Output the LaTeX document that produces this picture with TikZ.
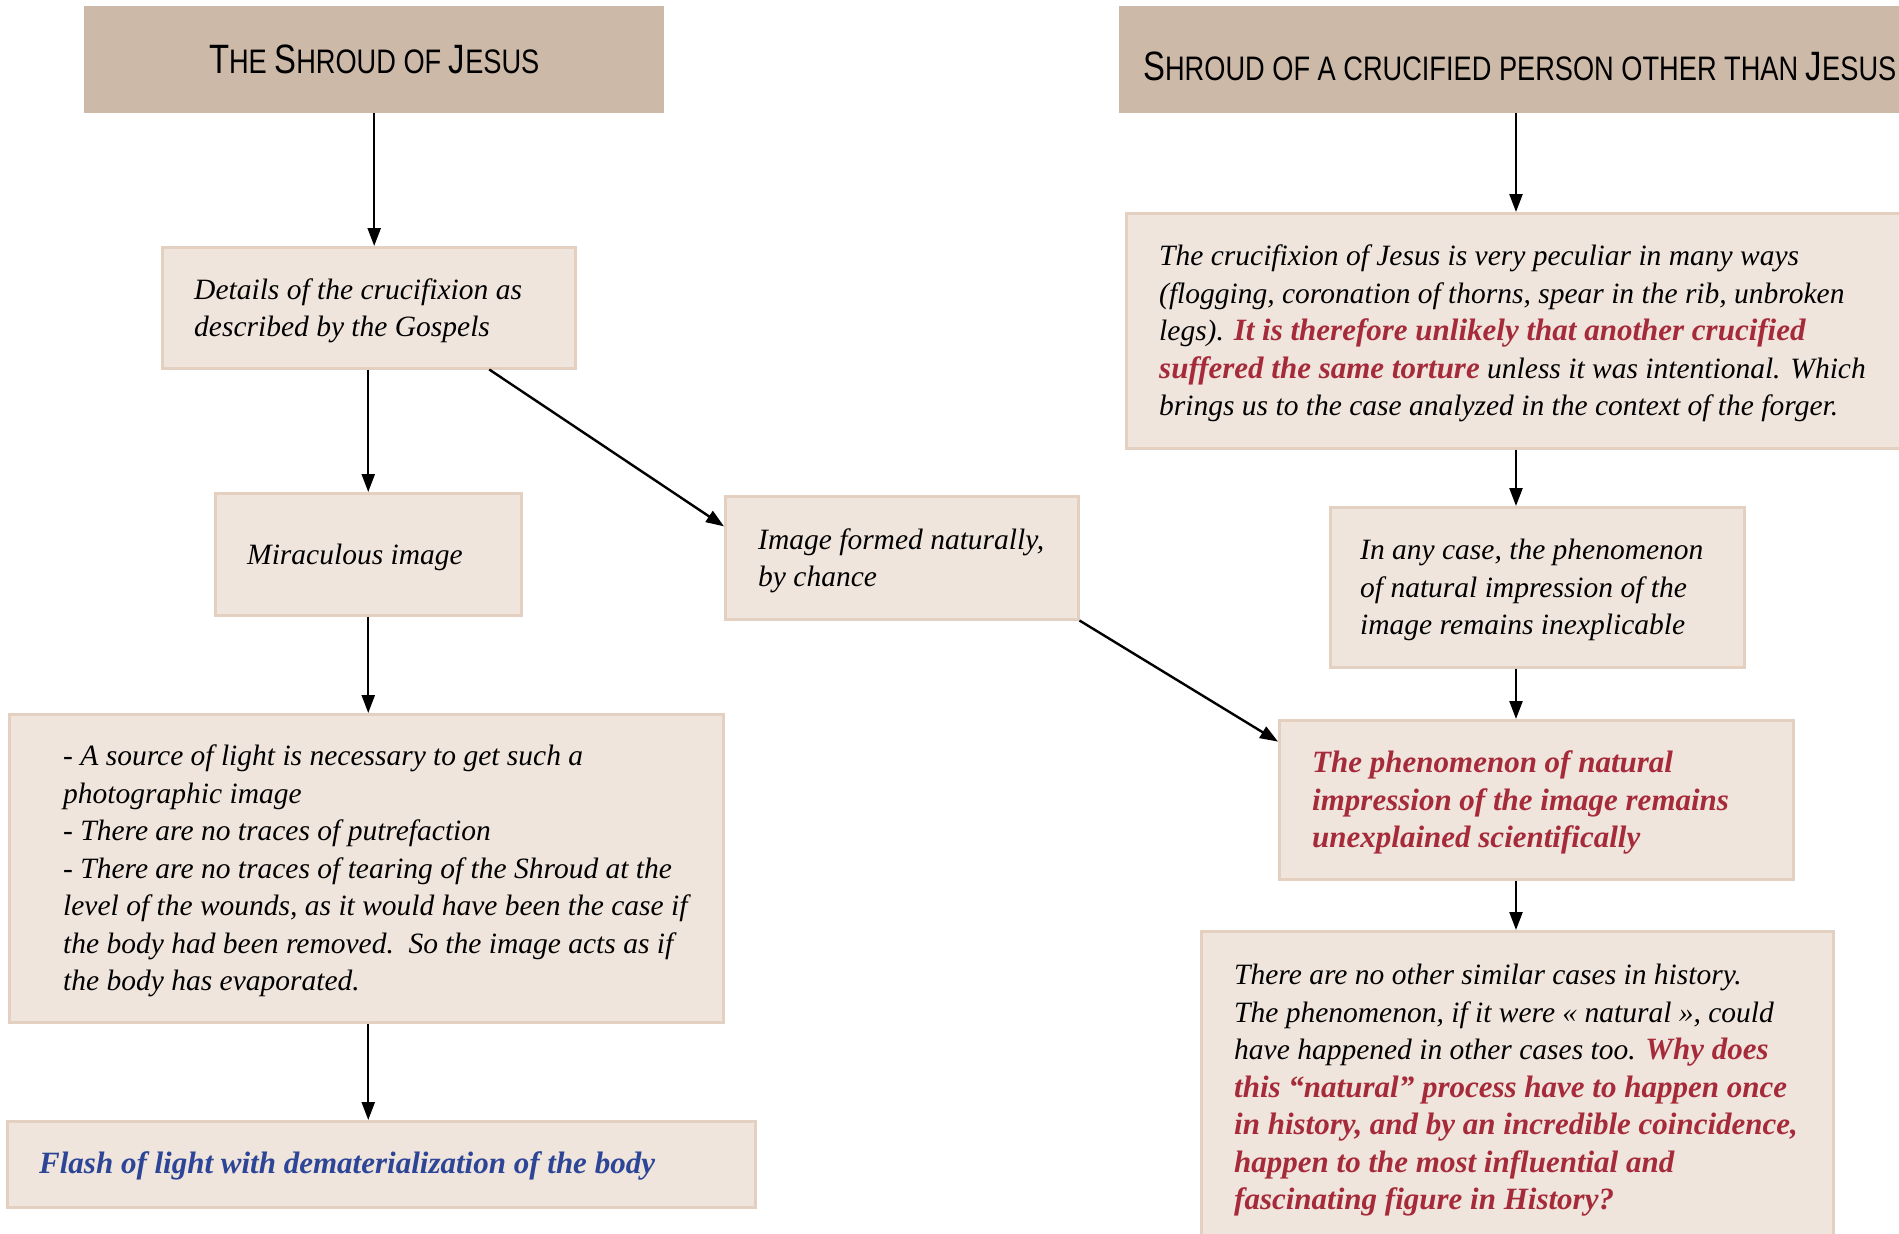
\documentclass[tikz,border=0pt]{standalone}
\usepackage{fontspec}
\setmainfont{Liberation Serif}
\newfontfamily\titlefont[FakeStretch=0.8]{Liberation Sans}
\usetikzlibrary{arrows.meta,calc}
\definecolor{titlefill}{HTML}{CDB9A8}
\definecolor{boxfill}{HTML}{F0E5DD}
\definecolor{boxline}{HTML}{E4D0C0}
\definecolor{redtxt}{HTML}{A62B3A}
\definecolor{bluetxt}{HTML}{2C4597}
\newcommand{\BigCap}[1]{{\fontsize{41}{43}\selectfont #1}}
\newcommand{\hl}[1]{\textcolor{redtxt}{\fontsize{31}{37.5}\selectfont\bfseries #1}}
\newcommand{\bodyfont}{\fontsize{29.5}{37.5}\selectfont\itshape}
\tikzset{
  titlebox/.style={fill=titlefill, draw=none, inner sep=0pt, anchor=north west},
  bodybox/.style={fill=boxfill, draw=boxline, line width=2.5pt, inner sep=0pt, anchor=north west},
  bodytext/.style={anchor=west, align=left, inner sep=0pt, font=\bodyfont},
  titletext/.style={inner sep=0pt, font=\titlefont\fontsize{34}{37}\selectfont},
  arr/.style={-{Triangle[length=18pt,width=13pt]}, line width=2.4pt},
}
\begin{document}
\begin{tikzpicture}[x=1pt,y=-1pt]
\useasboundingbox (0,0) rectangle (1899,1234);
% title boxes
\node[titlebox, minimum width=580pt, minimum height=107pt] (t1) at (84,6) {};
\node[titletext] (t1txt) at (t1.center) {\BigCap{T}HE \BigCap{S}HROUD OF \BigCap{J}ESUS};
\node[titlebox, minimum width=800pt, minimum height=107pt] (t2) at (1119,6) {};
\node[titletext, anchor=west] (t2txt) at ([xshift=24pt,yshift=-7pt]t2.west) {\BigCap{S}HROUD OF A CRUCIFIED PERSON OTHER THAN \BigCap{J}ESUS};
% left column boxes
\node[bodybox, minimum width=413pt, minimum height=121pt] (b1) at (161,246) {};
\node[bodytext] (b1txt) at ([xshift=33pt,yshift=-3pt]b1.west) {Details of the crucifixion as\\described by the Gospels};
\node[bodybox, minimum width=306pt, minimum height=122pt] (b2) at (214,492) {};
\node[bodytext] (b2txt) at ([xshift=33pt,yshift=-3pt]b2.west) {Miraculous image};
\node[bodybox, minimum width=353pt, minimum height=123pt] (b3) at (724,495) {};
\node[bodytext] (b3txt) at ([xshift=34pt,yshift=-3pt]b3.west) {Image formed naturally,\\by chance};
\node[bodybox, minimum width=714pt, minimum height=308pt] (b4) at (8,713) {};
\node[bodytext] (b4txt) at ([xshift=55pt,yshift=-3pt]b4.west) {- A source of light is necessary to get such a\\photographic image\\- There are no traces of putrefaction\\- There are no traces of tearing of the Shroud at the\\level of the wounds, as it would have been the case if\\the body had been removed.\ \ So the image acts as if\\the body has evaporated.};
\node[bodybox, minimum width=748pt, minimum height=86pt] (b5) at (6,1120) {};
\node[bodytext] (b5txt) at ([xshift=33pt,yshift=-2pt]b5.west) {\textcolor{bluetxt}{\fontsize{31}{37.5}\selectfont\bfseries Flash of light with dematerialization of the body}};
% right column boxes
\node[bodybox, minimum width=790pt, minimum height=235pt] (b6) at (1125,212) {};
\node[bodytext] (b6txt) at ([xshift=34pt,yshift=-3pt]b6.west) {The crucifixion of Jesus is very peculiar in many ways\\(flogging, coronation of thorns, spear in the rib, unbroken\\legs). \hl{It is therefore unlikely that another crucified}\\\hl{suffered the same torture} unless it was intentional. Which\\brings us to the case analyzed in the context of the forger.};
\node[bodybox, minimum width=414pt, minimum height=160pt] (b7) at (1329,506) {};
\node[bodytext] (b7txt) at ([xshift=31pt,yshift=-3pt]b7.west) {In any case, the phenomenon\\of natural impression of the\\image remains inexplicable};
\node[bodybox, minimum width=514pt, minimum height=159pt] (b8) at (1278,719) {};
\node[bodytext] (b8txt) at ([xshift=34pt,yshift=-3pt]b8.west) {\hl{The phenomenon of natural}\\\hl{impression of the image remains}\\\hl{unexplained scientifically}};
\node[bodybox, minimum width=632pt, minimum height=320pt] (b9) at (1200,930) {};
\node[bodytext] (b9txt) at ([xshift=34pt,yshift=1pt]b9.west) {There are no other similar cases in history.\\The phenomenon, if it were «~natural~», could\\have happened in other cases too. \hl{Why does}\\\hl{this ``natural'' process have to happen once}\\\hl{in history, and by an incredible coincidence,}\\\hl{happen to the most influential and}\\\hl{fascinating figure in History?}};
% connectors
\coordinate (rx) at (1516,0);
\draw[arr] (t1.south) -- (t1.south |- b1.north);
\draw[arr] (b2.north |- b1.south) -- (b2.north);
\draw[arr] ($(b1.south west)!0.79!(b1.south east)$) -- ($(b3.north west)!0.25!(b3.south west)$);
\draw[arr] (b2.south) -- (b2.south |- b4.north);
\draw[arr] (b2.south |- b4.south) -- (b2.south |- b5.north);
\draw[arr] (b3.south east) -- ($(b8.north west)!0.14!(b8.south west)$);
\draw[arr] (rx |- t2.south) -- (rx |- b6.north);
\draw[arr] (rx |- b6.south) -- (rx |- b7.north);
\draw[arr] (rx |- b7.south) -- (rx |- b8.north);
\draw[arr] (rx |- b8.south) -- (rx |- b9.north);
\end{tikzpicture}
\end{document}
